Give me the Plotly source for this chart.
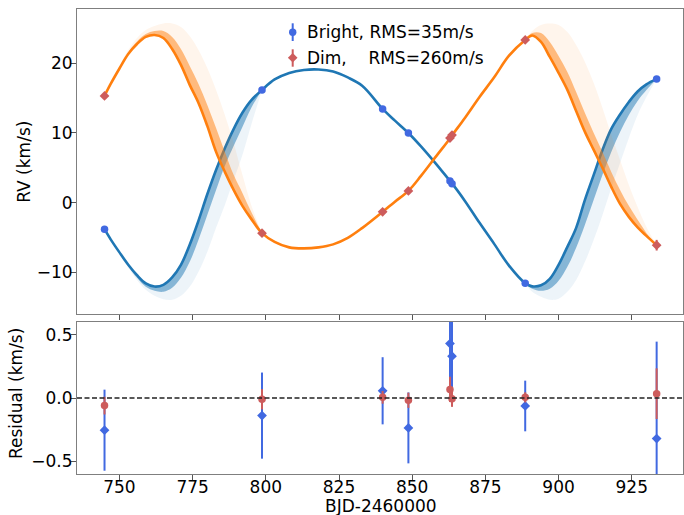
import plotly.graph_objects as go

# ---------------- observations (BJD - 2460000) ----------------
obs_t = [744.9, 798.7, 839.9, 848.7, 862.9, 863.6, 888.6, 933.5]
bright_rv = [-3.82, 16.18, 13.45, 10.00, 3.10, 2.70, -11.57, 17.76]
dim_rv = [15.32, -4.39, -1.33, 1.68, 9.27, 9.70, 23.35, -6.12]

# residuals (km/s)
bright_resid = [-0.06, -0.01, 0.005, -0.018, 0.068, -0.005, 0.005, 0.034]
bright_err = [0.07, 0.08, 0.05, 0.06, 0.10, 0.065, 0.04, 0.20]
dim_resid = [-0.254, -0.139, 0.057, -0.236, 0.43, 0.33, -0.063, -0.32]
dim_err = [0.32, 0.34, 0.265, 0.28, 0.35, 0.30, 0.20, 0.765]

# ---------------- orbit model, sampled on three time spans ----------------
model_t1 = [744.9, 747, 750, 753, 756, 759, 762, 765, 768, 771, 774, 777,
            780, 783, 786, 789, 792, 795, 798.7]
model_t2 = [803, 808, 813, 818, 823, 828, 833, 839.9, 844, 848.7, 853, 858,
            862.9, 863.6, 868, 873, 878, 883]
model_t3 = [888.6, 891, 894, 897, 900, 903, 906, 909, 912, 915, 918, 921,
            924, 927, 930, 933.5]

# best model curves
bright_m1 = [-3.82, -5.28, -7.15, -8.93, -10.43, -11.60, -12.06, -11.81, -10.74,
             -8.94, -6.06, -2.60, 1.19, 4.68, 7.81, 10.56, 12.90, 14.68, 16.18]
bright_m2 = [17.68, 18.62, 19.05, 19.12, 18.83, 17.97, 16.75, 13.45, 11.80, 10.00,
             8.07, 5.63, 3.11, 2.76, 0.24, -2.91, -5.93, -9.01]
bright_m3 = [-11.57, -12.03, -11.88, -10.95, -8.94, -6.36, -3.63, 0.39, 3.98, 7.56,
             10.58, 12.66, 14.45, 15.96, 16.97, 17.76]
dim_m1 = [15.32, 17.04, 19.26, 21.34, 22.78, 23.79, 24.07, 23.64, 22.06, 19.77,
          16.90, 14.31, 11.01, 7.28, 4.41, 1.82, -0.47, -2.34, -4.39]
dim_m2 = [-5.64, -6.43, -6.57, -6.43, -6.00, -5.07, -3.63, -1.33, 0.10, 1.68,
          3.83, 6.56, 9.21, 9.65, 12.16, 15.17, 17.99, 21.06]
dim_m3 = [23.35, 24.00, 23.07, 20.91, 18.62, 16.18, 13.16, 10.15, 7.56, 4.98,
          2.25, -0.19, -2.05, -3.56, -4.78, -6.12]

# posterior spread: dense-core edge and outermost draws
bright_core1 = [-3.82, -5.31, -7.22, -9.09, -10.81, -12.10, -12.67, -12.82, -12.24,
                -10.81, -8.51, -5.35, -1.77, 1.82, 5.27, 8.14, 10.87, 13.59, 16.18]
bright_outer1 = [-3.82, -5.35, -7.36, -9.37, -11.10, -12.53, -13.39, -13.89, -13.97,
                 -13.39, -12.10, -9.95, -7.08, -3.63, -0.33, 3.26, 6.85, 11.15, 16.18]
bright_core3 = [-11.57, -12.38, -12.67, -12.38, -11.24, -9.23, -6.50, -3.20, 0.39,
                3.98, 7.28, 10.15, 12.59, 14.60, 16.18, 17.76]
bright_outer3 = [-11.57, -12.82, -13.54, -13.97, -13.82, -12.82, -11.10, -8.51, -5.35,
                 -1.77, 2.11, 5.70, 9.29, 12.59, 15.17, 17.76]
dim_core1 = [15.32, 17.11, 19.41, 21.56, 23.14, 24.21, 24.64, 24.64, 23.78, 22.06,
             19.62, 17.04, 14.02, 10.72, 7.28, 3.98, 1.39, -1.33, -4.39]
dim_outer1 = [15.32, 17.18, 19.62, 21.92, 23.64, 24.79, 25.36, 25.72, 25.72, 25.22,
              23.93, 21.92, 19.34, 16.18, 12.59, 8.57, 3.98, -0.33, -4.39]
dim_core3 = [23.35, 24.35, 24.35, 23.07, 21.06, 18.76, 15.89, 12.88, 10.00, 7.28,
             4.41, 1.82, -0.47, -2.48, -4.35, -6.12]
dim_outer3 = [23.35, 24.64, 25.51, 25.72, 25.51, 24.50, 22.63, 20.19, 17.18, 13.59,
              9.72, 6.13, 2.54, -0.62, -3.49, -6.12]

x_ticks = [750, 775, 800, 825, 850, 875, 900, 925]
rv_ticks = [-10, 0, 10, 20]
res_ticks = [-0.5, 0.0, 0.5]

TAB_BLUE = (31, 119, 180)
TAB_ORANGE = (255, 127, 14)
ROYAL = "#4169E1"
INDIAN = "#CD5C5C"
FONT = "DejaVu Sans"

W, H = 684, 515
ML, MR = 77, 1


def rgba(c, a):
    return f"rgba({c[0]},{c[1]},{c[2]},{a})"


fig = go.Figure()


def add_band(t, edge_a, edge_b, color, alpha):
    fig.add_trace(go.Scatter(x=t, y=edge_a, mode="lines", line=dict(width=0, shape="spline"),
                             hoverinfo="skip", showlegend=False, xaxis="x", yaxis="y"))
    fig.add_trace(go.Scatter(x=t, y=edge_b, mode="lines", line=dict(width=0, shape="spline"),
                             fill="tonexty", fillcolor=rgba(color, alpha),
                             hoverinfo="skip", showlegend=False, xaxis="x", yaxis="y"))


model_t = model_t1 + model_t2 + model_t3

for m1, m2, m3, c1, o1, c3, o3, col in [
    (bright_m1, bright_m2, bright_m3, bright_core1, bright_outer1, bright_core3, bright_outer3, TAB_BLUE),
    (dim_m1, dim_m2, dim_m3, dim_core1, dim_outer1, dim_core3, dim_outer3, TAB_ORANGE),
]:
    # faint outer draws, then the dense core of the posterior
    add_band(model_t1, m1, o1, col, 0.08)
    add_band(model_t3, m3, o3, col, 0.08)
    add_band(model_t1, m1, c1, col, 0.5)
    add_band(model_t3, m3, c3, col, 0.5)
    fig.add_trace(go.Scatter(x=model_t, y=m1 + m2 + m3, mode="lines",
                             line=dict(color=rgba(col, 1), width=2.6, shape="spline"),
                             hoverinfo="skip", showlegend=False, xaxis="x", yaxis="y"))

# observed velocities
fig.add_trace(go.Scatter(x=obs_t, y=bright_rv, mode="markers",
                         marker=dict(symbol="circle", size=7.5, color=ROYAL),
                         error_y=dict(type="data", array=bright_err, color=ROYAL, thickness=2, width=0),
                         showlegend=False, xaxis="x", yaxis="y"))
fig.add_trace(go.Scatter(x=obs_t, y=dim_rv, mode="markers",
                         marker=dict(symbol="diamond", size=7.5, color=INDIAN),
                         error_y=dict(type="data", array=dim_err, color=INDIAN, thickness=2, width=0),
                         showlegend=False, xaxis="x", yaxis="y"))

# residuals
fig.add_trace(go.Scatter(x=obs_t, y=dim_resid, mode="markers",
                         marker=dict(symbol="diamond", size=7.5, color=ROYAL),
                         error_y=dict(type="data", array=dim_err, color=ROYAL, thickness=2, width=0),
                         showlegend=False, xaxis="x2", yaxis="y2", cliponaxis=True))
fig.add_trace(go.Scatter(x=obs_t, y=bright_resid, mode="markers",
                         marker=dict(symbol="circle", size=7.5, color=INDIAN),
                         error_y=dict(type="data", array=bright_err, color=INDIAN, thickness=2, width=0),
                         showlegend=False, xaxis="x2", yaxis="y2", cliponaxis=True))


def px_x(p):
    return (p - ML) / (W - ML - MR)


def px_y(p):
    return (H - p) / H


shapes = [
    dict(type="line", xref="x2 domain", x0=0, x1=1, yref="y2", y0=0, y1=0,
         line=dict(color="#222", width=1.4, dash="5px,2.5px")),
]
# legend glyphs
lx = px_x(292.7)
for yc, y_top, y_bot, col, sym in [(32.2, 23.3, 41.0, ROYAL, "circle"),
                                   (57.8, 49.3, 66.7, INDIAN, "diamond")]:
    shapes.append(dict(type="line", xref="paper", yref="paper", x0=lx, x1=lx,
                       y0=px_y(y_top), y1=px_y(y_bot), line=dict(color=col, width=2)))
    if sym == "circle":
        shapes.append(dict(type="circle", xref="paper", yref="paper", xsizemode="pixel",
                           ysizemode="pixel", xanchor=lx, yanchor=px_y(yc),
                           x0=-3.7, x1=3.7, y0=-3.7, y1=3.7,
                           fillcolor=col, line=dict(width=0)))
    else:
        shapes.append(dict(type="path", xref="paper", yref="paper", xsizemode="pixel",
                           ysizemode="pixel", xanchor=lx, yanchor=px_y(yc),
                           path="M 0,4.8 L 4.8,0 L 0,-4.8 L -4.8,0 Z",
                           fillcolor=col, line=dict(width=0)))

txt = dict(family=FONT, size=17, color="black")
annotations = [
    dict(text="Bright, RMS=35m/s", xref="paper", yref="paper", x=px_x(304.5), y=px_y(32.5),
         xanchor="left", yanchor="middle", showarrow=False, font=txt),
    dict(text="Dim,\u00a0\u00a0\u00a0\u00a0RMS=260m/s", xref="paper", yref="paper", x=px_x(304.5),
         y=px_y(58.3), xanchor="left", yanchor="middle", showarrow=False, font=txt),
    dict(text="RV (km/s)", xref="paper", yref="paper", x=px_x(23.3), y=px_y(161.5),
         xanchor="center", yanchor="middle", textangle=-90, showarrow=False, font=txt),
    dict(text="Residual (km/s)", xref="paper", yref="paper", x=px_x(15.8), y=px_y(393.3),
         xanchor="center", yanchor="middle", textangle=-90, showarrow=False, font=txt),
    dict(text="BJD-2460000", xref="paper", yref="paper", x=px_x(380.5), y=px_y(506),
         xanchor="center", yanchor="middle", showarrow=False, font=txt),
]

axis_common = dict(showline=True, linecolor="#7f7f7f", linewidth=1, mirror=True,
                   ticks="outside", ticklen=5, tickwidth=1, tickcolor="#555",
                   showgrid=False, zeroline=False, tickfont=txt)

fig.update_layout(
    width=W, height=H,
    margin=dict(l=ML, r=MR, t=0, b=0),
    paper_bgcolor="white", plot_bgcolor="white",
    font=dict(family=FONT, size=17, color="black"),
    showlegend=False,
    xaxis=dict(domain=[0, 1], anchor="y", range=[735.5, 942.5], tickvals=x_ticks,
               showticklabels=False, matches="x2", **axis_common),
    yaxis=dict(domain=[px_y(314), px_y(9)], anchor="x", range=[-16.0, 27.8],
               tickvals=rv_ticks, ticklabelstandoff=-5, **axis_common),
    xaxis2=dict(domain=[0, 1], anchor="y2", range=[735.5, 942.5], tickvals=x_ticks,
                ticklabelstandoff=-7, **axis_common),
    yaxis2=dict(domain=[px_y(474), px_y(322)], anchor="x2", range=[-0.6, 0.6],
                tickvals=res_ticks, tickformat=".1f", ticklabelstandoff=-5, **axis_common),
    shapes=shapes,
    annotations=annotations,
)

fig.write_html("out.html")
